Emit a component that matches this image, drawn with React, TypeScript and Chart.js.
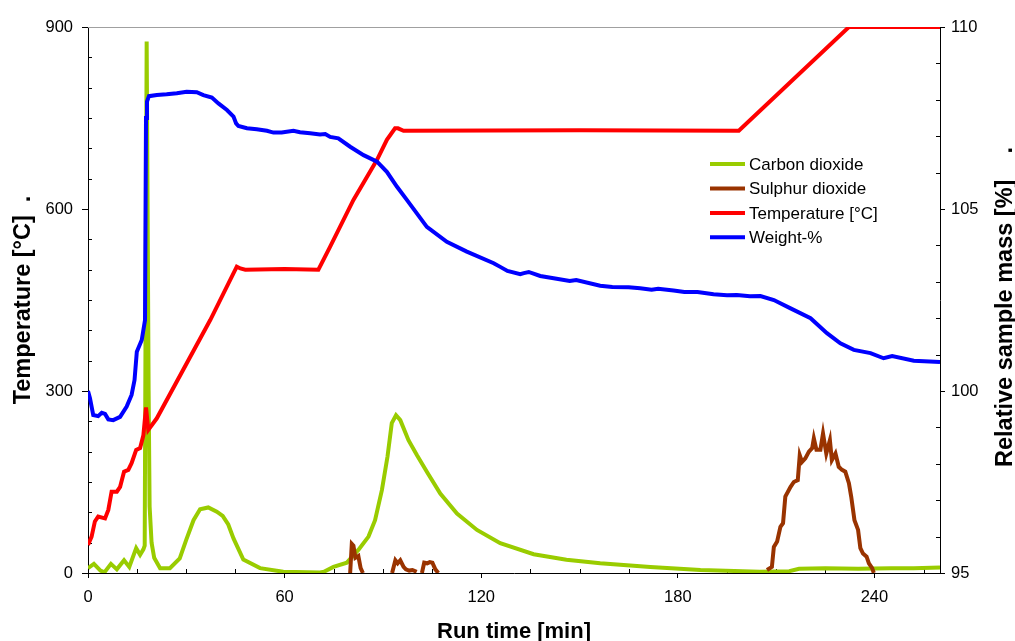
import React, { useEffect, useRef } from "react";
import { Chart, registerables } from "chart.js";

Chart.register(...registerables);

// ---- axis ticks ----
const xTickValues = [0, 60, 120, 180, 240];
const tempTickValues = [0, 300, 600, 900];
const massTickValues = [95, 100, 105, 110];

// ---- titles / labels ----
const xTitle = "Run time [min]";
const yLeftTitle = "Temperature [°C]  .";
const yRightTitle = "Relative sample mass [%]    .";
const seriesLabels = ["Carbon dioxide", "Sulphur dioxide", "Temperature [°C]", "Weight-%"];

// ---- Carbon dioxide (left axis units) ----
const co2Time = [0, 1.8, 3.8, 5, 7, 8.8, 11, 12.6, 14.7, 15.9, 16.9, 17.3, 17.9, 18.5, 18.8, 19.4, 20.2, 22, 25, 28, 30, 32.2, 34.2, 36.7, 39.3, 41.1, 42.8, 44.4, 47.4, 52.5, 59.6, 70.8, 72, 74.9, 79, 82.5, 85.6, 87.6, 89.7, 91.4, 92.7, 94, 95.3, 97.8, 100.4, 103.4, 107.5, 112.6, 118.7, 125.8, 136, 146, 156.3, 171.6, 186.9, 205, 214, 217, 225, 235, 245, 252, 260];
const co2Values = [8, 15, 4, 1, 15, 6, 21, 10, 41, 30, 39, 45, 876, 300, 110, 50, 25, 8, 8, 24, 55, 87, 105, 108, 101, 94, 80, 57, 22, 8, 2, 1, 2, 10, 17, 38, 60, 87, 137, 192, 247, 260, 252, 219, 194, 167, 131, 98, 71, 49, 31, 22, 16, 10, 5, 2, 3, 7, 8, 7, 8, 8, 9];

// ---- Sulphur dioxide (left axis units, null = no signal) ----
const so2Time = [80.0, 80.5, 81.0, 81.6, 82.5, 83.2, 83.9, 88, 92.8, 93.8, 94.5, 95.3, 96.3, 97.0, 98.0, 99.0, 100.3, 101, 101.9, 102.6, 103.5, 104.3, 105.1, 106.0, 106.9, 150, 207.2, 208.7, 209.3, 210.3, 211.3, 212.1, 212.8, 214.4, 215.4, 216.6, 217.2, 217.9, 218.9, 220, 221, 221.5, 222.3, 223.5, 224.3, 225.3, 226.4, 227, 228.1, 229.1, 230.1, 231.1, 232.2, 232.9, 233.9, 235, 235.7, 236.5, 237.6, 238.3, 239.3, 239.8];
const so2Values = [0, 48, 45, 25, 28, 8, 0, null, 0, 21, 16, 21, 10, 6, 4, 5, 2, null, 0, 17, 16, 18, 17, 6, 0, null, 5, 10, 43, 52, 76, 82, 126, 142, 150, 153, 194, 183, 189, 200, 206, 222, 203, 203, 230, 197, 219, 186, 197, 175, 170, 167, 148, 126, 87, 71, 41, 32, 27, 16, 8, 0];

// ---- Temperature [°C] ----
const tempTime = [0, 1.1, 2.1, 3.1, 5.2, 6.2, 7.2, 8.8, 9.8, 11, 12.3, 13.3, 14.7, 15.9, 16.9, 17.7, 18.4, 19.5, 21, 37.3, 45.4, 46.5, 48, 60, 70.3, 73.9, 81, 88.2, 91.2, 93.7, 94.6, 96.3, 150, 198.6, 232.2, 260];
const tempValues = [46, 60, 85, 93, 90, 104, 134, 134, 142, 167, 170, 181, 203, 206, 227, 273, 236, 244, 255, 417, 505, 502, 500, 501, 500, 538, 615, 681, 714, 733, 733, 729, 730, 729, 900, 900];

// ---- Weight-% (right axis) ----
const weightTime = [0, 0.6, 1.6, 3.1, 4.2, 5.2, 6.2, 7.7, 9.8, 11.8, 13.3, 14.2, 14.9, 16.4, 17.4, 17.7, 18.0, 18.6, 21, 24, 27.1, 30.1, 33.2, 35.2, 37.8, 39.8, 42.4, 44.4, 45.2, 45.9, 48.5, 51.5, 54.6, 56.6, 59.1, 62.7, 64.7, 67.8, 70.8, 72.4, 73.9, 76.4, 80, 84.1, 88.2, 91.2, 94.3, 97.3, 103.4, 109.5, 115.6, 123.8, 125.8, 128, 131.9, 133, 134.5, 138, 142.1, 147, 149, 156.3, 160, 165, 168.5, 172, 174, 178.7, 182, 186, 190.9, 195, 198, 202, 205.2, 209.3, 214.4, 220.5, 225.5, 229.6, 233.7, 238.8, 242.8, 245.4, 252, 260];
const weightValues = [100.0, 99.8, 99.34, 99.31, 99.4, 99.37, 99.22, 99.2, 99.29, 99.57, 99.89, 100.3, 101.08, 101.4, 101.95, 107.5, 107.95, 108.1, 108.13, 108.15, 108.18, 108.22, 108.21, 108.13, 108.06, 107.9, 107.72, 107.54, 107.35, 107.28, 107.22, 107.19, 107.15, 107.1, 107.1, 107.15, 107.11, 107.08, 107.05, 107.06, 106.98, 106.94, 106.71, 106.48, 106.3, 106.02, 105.61, 105.25, 104.51, 104.1, 103.83, 103.51, 103.41, 103.3, 103.21, 103.24, 103.27, 103.16, 103.1, 103.02, 103.05, 102.89, 102.86, 102.85, 102.82, 102.78, 102.81, 102.76, 102.72, 102.72, 102.66, 102.63, 102.64, 102.6, 102.61, 102.5, 102.27, 102.0, 101.59, 101.31, 101.13, 101.04, 100.9, 100.96, 100.83, 100.8];

const seriesColors = ["#99CC00", "#993300", "#FF0000", "#0000FF"];

const FONT = "Arial, 'Liberation Sans', sans-serif";

const toPoints = (xs: number[], ys: (number | null)[]) => xs.map((x, i) => ({ x, y: ys[i] }));

const decorPlugin = {
  id: "decor",
  beforeDatasetsDraw(chart: any) {
    const { ctx, chartArea: a } = chart;
    const xs = chart.scales.x;
    const yl = chart.scales.y;
    const yr = chart.scales.y1;
    ctx.save();
    // top frame line
    ctx.strokeStyle = "#a0a0a0";
    ctx.lineWidth = 1;
    ctx.beginPath();
    ctx.moveTo(a.left, Math.round(a.top) + 0.5);
    ctx.lineTo(a.right, Math.round(a.top) + 0.5);
    ctx.stroke();
    // minor ticks (inside)
    ctx.strokeStyle = "#000";
    ctx.beginPath();
    for (let v = 15; v < xs.max; v += 15) {
      if (v % 60 === 0) continue;
      const px = Math.round(xs.getPixelForValue(v)) + 0.5;
      ctx.moveTo(px, a.bottom);
      ctx.lineTo(px, a.bottom - 4);
    }
    for (let v = 50; v < yl.max; v += 50) {
      if (v % 300 === 0) continue;
      const py = Math.round(yl.getPixelForValue(v)) + 0.5;
      ctx.moveTo(a.left, py);
      ctx.lineTo(a.left + 4, py);
    }
    for (let v = yr.min + 1; v < yr.max; v += 1) {
      if (v % 5 === 0) continue;
      const py = Math.round(yr.getPixelForValue(v)) + 0.5;
      ctx.moveTo(a.right, py);
      ctx.lineTo(a.right - 4, py);
    }
    ctx.stroke();
    ctx.restore();
  },
  afterDraw(chart: any) {
    const { ctx, chartArea: a } = chart;
    ctx.save();
    ctx.fillStyle = "#000";
    // axis titles
    ctx.font = `bold 22px ${FONT}`;
    ctx.textAlign = "center";
    ctx.textBaseline = "alphabetic";
    ctx.fillText(xTitle, (a.left + a.right) / 2, a.bottom + 64.5);

    ctx.font = `bold 23.5px ${FONT}`;
    ctx.save();
    ctx.translate(a.left - 57.7, (a.top + a.bottom) / 2);
    ctx.rotate(-Math.PI / 2);
    ctx.fillText(yLeftTitle, 0, 0);
    ctx.restore();

    ctx.save();
    ctx.translate(a.right + 71.5, (a.top + a.bottom) / 2 + 7);
    ctx.rotate(-Math.PI / 2);
    ctx.fillText(yRightTitle, 0, 0);
    ctx.restore();

    // legend inside plot
    const lx = a.left + 622;
    const ly = a.top + 137;
    ctx.font = `17px ${FONT}`;
    ctx.textAlign = "left";
    ctx.textBaseline = "middle";
    chart.data.datasets.forEach((ds: any, i: number) => {
      const y = ly + i * 24.45;
      ctx.strokeStyle = ds.borderColor;
      ctx.lineWidth = 4;
      ctx.beginPath();
      ctx.moveTo(lx, y);
      ctx.lineTo(lx + 35, y);
      ctx.stroke();
      ctx.fillStyle = "#000";
      ctx.fillText(ds.label, lx + 39, y + 1);
    });
    ctx.restore();
  },
};

export default function App() {
  const canvasRef = useRef<HTMLCanvasElement | null>(null);

  useEffect(() => {
    if (!canvasRef.current) return;
    const tickFont = { family: FONT, size: 16.5 };
    const lw = 4;
    const chart = new Chart(canvasRef.current, {
      type: "line",
      data: {
        datasets: [
          { label: seriesLabels[0], data: toPoints(co2Time, co2Values), yAxisID: "y", borderColor: seriesColors[0], backgroundColor: seriesColors[0], borderWidth: lw, pointRadius: 0, tension: 0, order: 3 },
          { label: seriesLabels[1], data: toPoints(so2Time, so2Values), yAxisID: "y", borderColor: seriesColors[1], backgroundColor: seriesColors[1], borderWidth: lw, pointRadius: 0, tension: 0, spanGaps: false, order: 2 },
          { label: seriesLabels[2], data: toPoints(tempTime, tempValues), yAxisID: "y", borderColor: seriesColors[2], backgroundColor: seriesColors[2], borderWidth: lw, pointRadius: 0, tension: 0, order: 1 },
          { label: seriesLabels[3], data: toPoints(weightTime, weightValues), yAxisID: "y1", borderColor: seriesColors[3], backgroundColor: seriesColors[3], borderWidth: lw, pointRadius: 0, tension: 0, order: 0 },
        ] as any,
      },
      options: {
        animation: false,
        responsive: false,
        events: [],
        layout: { padding: { top: 27, left: 0, right: 0, bottom: 0 } },
        plugins: { legend: { display: false }, tooltip: { enabled: false } },
        scales: {
          x: {
            type: "linear",
            min: 0,
            max: 260,
            afterBuildTicks: (s: any) => { s.ticks = xTickValues.map((v) => ({ value: v })); },
            afterFit: (s: any) => { s.height = 68; },
            border: { display: true, color: "#000", width: 1 },
            grid: { display: true, drawOnChartArea: false, drawTicks: true, tickLength: 5, tickColor: "#000", tickWidth: 1 },
            ticks: { color: "#000", font: tickFont, padding: 10, maxRotation: 0, autoSkip: false },
          },
          y: {
            type: "linear",
            position: "left",
            min: 0,
            max: 900,
            afterBuildTicks: (s: any) => { s.ticks = tempTickValues.map((v) => ({ value: v })); },
            afterFit: (s: any) => { s.width = 88; },
            border: { display: true, color: "#000", width: 1 },
            grid: { display: true, drawOnChartArea: false, drawTicks: true, tickLength: 6, tickColor: "#000", tickWidth: 1 },
            ticks: { color: "#000", font: tickFont, padding: 9, autoSkip: false },
          },
          y1: {
            type: "linear",
            position: "right",
            min: 95,
            max: 110,
            afterBuildTicks: (s: any) => { s.ticks = massTickValues.map((v) => ({ value: v })); },
            afterFit: (s: any) => { s.width = 75; },
            border: { display: true, color: "#000", width: 1 },
            grid: { display: true, drawOnChartArea: false, drawTicks: true, tickLength: 5, tickColor: "#000", tickWidth: 1 },
            ticks: { color: "#000", font: tickFont, padding: 6, autoSkip: false },
          },
        },
      } as any,
      plugins: [decorPlugin],
    });
    return () => chart.destroy();
  }, []);

  return (
    <div style={{ position: "absolute", left: 0, top: 0, width: 1015, height: 641, background: "#fff" }}>
      <canvas ref={canvasRef} width={1015} height={641} style={{ display: "block" }} />
    </div>
  );
}
